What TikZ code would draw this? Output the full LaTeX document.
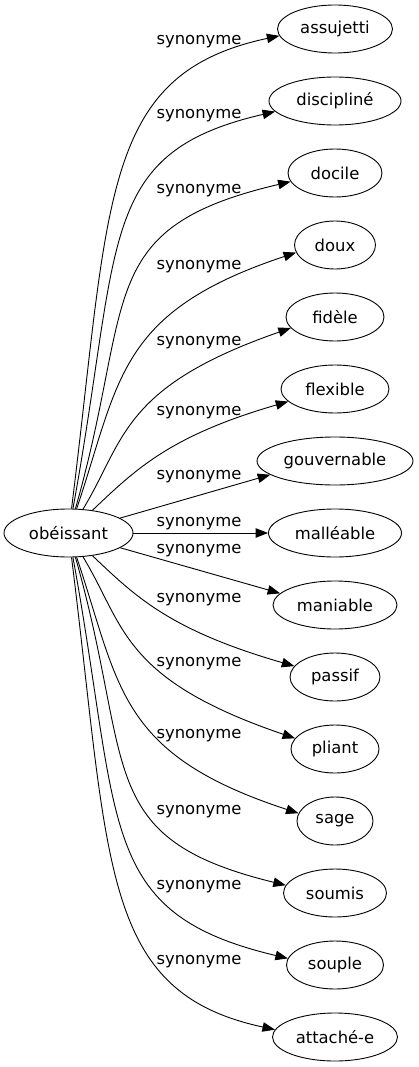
\documentclass[tikz,border=0pt]{standalone}
\usepackage{fontspec}
\setmainfont{DejaVu Sans}
\usetikzlibrary{arrows.meta,shapes.geometric}
\tikzset{
	mot/.style={draw, ellipse, inner sep=0pt, minimum height=48pt, line width=0.9pt, font=\fontsize{16.4}{19}\selectfont},
	lien/.style={-{Triangle[length=12.5pt,width=9.5pt]}, line width=0.9pt},
	etiq/.style={anchor=base, inner sep=0pt, font=\fontsize{16.4}{19}\selectfont}
}
\begin{document}
\begin{tikzpicture}[x=1pt,y=-1pt]
			\useasboundingbox (0,0) rectangle (419,1067);
			\node[mot, minimum width=129pt] (obe) at (68.5,533) {obéissant};
			\node[mot, minimum width=115pt] (assujetti) at (335,29) {assujetti};
			\node[mot, minimum width=132pt] (discipline) at (335,101) {discipliné};
			\node[mot, minimum width=94pt] (docile) at (335,173) {docile};
			\node[mot, minimum width=81pt] (doux) at (335,245) {doux};
			\node[mot, minimum width=98pt] (fidele) at (335,317) {fidèle};
			\node[mot, minimum width=108pt] (flexible) at (335,389) {flexible};
			\node[mot, minimum width=156pt] (gouvernable) at (335,461) {gouvernable};
			\node[mot, minimum width=133pt] (malleable) at (335,533) {malléable};
			\node[mot, minimum width=124pt] (maniable) at (335,605) {maniable};
			\node[mot, minimum width=90pt] (passif) at (335,677) {passif};
			\node[mot, minimum width=88pt] (pliant) at (335,749) {pliant};
			\node[mot, minimum width=76pt] (sage) at (335,821) {sage};
			\node[mot, minimum width=103pt] (soumis) at (335,893) {soumis};
			\node[mot, minimum width=97pt] (souple) at (335,965) {souple};
			\node[mot, minimum width=125pt] (attache) at (335,1037) {attaché-e};
			\draw[lien] (obe) .. controls (110,200) and (100,74) .. (assujetti.187);
			\draw[lien] (obe) .. controls (122,240) and (96,153) .. (discipline.190);
			\draw[lien] (obe) .. controls (135,300) and (92,228) .. (docile.191);
			\draw[lien] (obe) .. controls (120,380) and (117,312) .. (doux.191);
			\draw[lien] (obe) .. controls (125,440) and (121,387) .. (fidele.194);
			\draw[lien] (obe) .. controls (135,470) and (169,436) .. (flexible.195);
			\draw[lien] (obe) -- (gouvernable.192);
			\draw[lien] (obe) -- (malleable);
			\draw[lien] (obe) -- (maniable.168);
			\draw[lien] (obe) .. controls (135,596) and (169,630) .. (passif.165);
			\draw[lien] (obe) .. controls (125,626) and (121,679) .. (pliant.165);
			\draw[lien] (obe) .. controls (120,686) and (117,754) .. (sage.168);
			\draw[lien] (obe) .. controls (135,766) and (92,838) .. (soumis.171);
			\draw[lien] (obe) .. controls (122,826) and (96,913) .. (souple.172);
			\draw[lien] (obe) .. controls (110,866) and (100,992) .. (attache.173);
			\node[etiq] (syn1) at (199,44.5) {synonyme};
			\node[etiq] (syn2) at (199,118.5) {synonyme};
			\node[etiq] (syn3) at (199,193.5) {synonyme};
			\node[etiq] (syn4) at (199,269.5) {synonyme};
			\node[etiq] (syn5) at (199,345.5) {synonyme};
			\node[etiq] (syn6) at (199,415.5) {synonyme};
			\node[etiq] (syn7) at (199,479.5) {synonyme};
			\node[etiq] (syn8) at (199,526.5) {synonyme};
			\node[etiq] (syn9) at (199,553.5) {synonyme};
			\node[etiq] (syn10) at (199,602.5) {synonyme};
			\node[etiq] (syn11) at (199,666.5) {synonyme};
			\node[etiq] (syn12) at (199,738.5) {synonyme};
			\node[etiq] (syn13) at (199,814.5) {synonyme};
			\node[etiq] (syn14) at (199,889.5) {synonyme};
			\node[etiq] (syn15) at (199,964.5) {synonyme};
		\end{tikzpicture}
\end{document}
